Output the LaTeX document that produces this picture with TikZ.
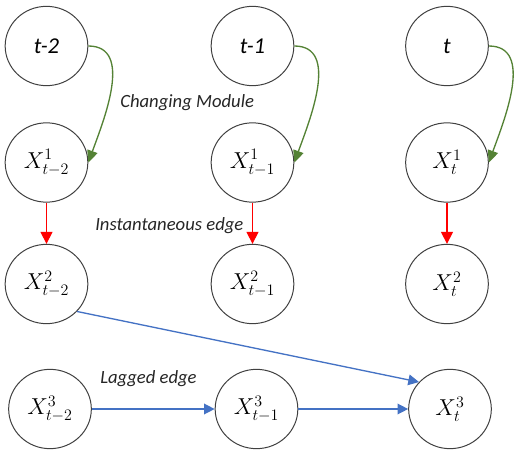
\documentclass[tikz,border=0pt]{standalone}
\usepackage{amsmath,amssymb}
\usepackage{fontspec}
\newfontfamily\lblfont{Carlito}
\usetikzlibrary{shapes.geometric, arrows.meta}

\definecolor{modgreen}{HTML}{548235}
\definecolor{lagblue}{HTML}{4472C4}

\tikzset{
    var/.style={ellipse, draw=black!75, line width=0.75pt, minimum width=62pt, minimum height=59.5pt, inner sep=0pt, font=\fontsize{17}{20}\selectfont},
    module/.style={draw=modgreen, line width=1pt, -{Triangle[length=9pt,width=8pt]}},
    inst/.style={draw=red, line width=1pt, -{Triangle[length=9pt,width=9pt]}},
    lag/.style={draw=lagblue, line width=1pt, -{Triangle[length=8pt,width=8pt]}},
    edgelabel/.style={font=\lblfont\itshape\fontsize{14}{16}\selectfont, text=black!85, anchor=base west, inner sep=0pt}
}

\begin{document}
\begin{tikzpicture}[x=0.75pt, y=0.75pt]

                \useasboundingbox (0,0) rectangle (519,-457);

                %Time nodes and the first two variables
                \foreach \x/\n/\s in {46.5/a/t-2, 252.5/b/t-1, 447/c/t}{
                \node[var] (t\n) at (\x,-46) {\lblfont\itshape\fontsize{17}{20}\selectfont \s};
                \node[var] (X1\n) at (\x,-162.5) {$X^1_{\s}$};
                \node[var] (X2\n) at (\x,-284) {$X^2_{\s}$};
                }

                %Third variable
                \foreach \x/\n/\s in {50/a/t-2, 256.5/b/t-1, 450/c/t}
                \node[var] (X3\n) at (\x,-409) {$X^3_{\s}$};

                %Changing module and instantaneous edges
                \foreach \n in {a,b,c}{
                \draw[module] (t\n.east) to[out=0, in=70] (X1\n.east);
                \draw[inst] (X1\n) -- (X2\n);
                }

                %Lagged edges
                \draw[lag] (X2a.-42) -- (X3c.139);
                \draw[lag] (X3a) -- (X3b);
                \draw[lag] (X3b) -- (X3c);

                %Edge labels
                \node[edgelabel] (modlbl) at (120,-107) {Changing Module};
                \node[edgelabel] (instlbl) at (95,-230) {Instantaneous edge};
                \node[edgelabel] (laglbl) at (100,-383) {Lagged edge};

\end{tikzpicture}
\end{document}
